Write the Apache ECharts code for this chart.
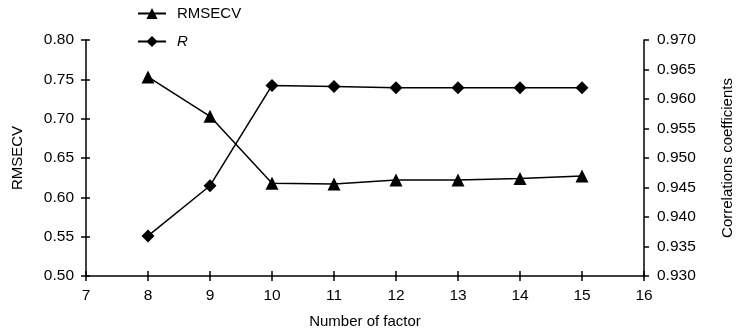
<!DOCTYPE html>
<html><head><meta charset="utf-8">
<script src="https://cdn.jsdelivr.net/npm/echarts@6/dist/echarts.min.js"></script>
<style>html,body{margin:0;padding:0;background:#fff}#c{width:743px;height:333px}</style>
</head><body><div id="c"></div>
<script>
const factors = [8, 9, 10, 11, 12, 13, 14, 15];
const rmsecv = [0.753, 0.703, 0.618, 0.617, 0.622, 0.622, 0.624, 0.627];
const rValues = [0.9368, 0.9453, 0.9623, 0.9621, 0.9619, 0.9619, 0.9619, 0.9619];

const FONT = 'Liberation Sans, Arial, sans-serif';
const lbl = {color: '#000', fontSize: 15.5, fontFamily: FONT};
const nameStyle = {color: '#000', fontSize: 15, fontFamily: FONT};
const axLine = {show: true, lineStyle: {color: '#000', width: 1.5}};
const chart = echarts.init(document.getElementById('c'));
chart.setOption({
  animation: false,
  backgroundColor: '#fff',
  grid: {left: 86, right: 99, top: 40, bottom: 57, outerBoundsMode: 'none', containLabel: false},
  legend: {
    orient: 'vertical', left: 137, top: 6, padding: 0, itemWidth: 28, itemHeight: 14, itemGap: 13,
    textStyle: {color: '#000', fontSize: 15, fontFamily: FONT, padding: [0, 0, 0, 6],
      rich: {i: {fontStyle: 'italic', fontSize: 15, fontFamily: FONT, color: '#000'}}},
    formatter: n => n === 'R' ? '{i|R}' : n,
    data: ['RMSECV', 'R']
  },
  xAxis: [{
    type: 'value', min: 7, max: 16, interval: 1,
    name: 'Number of factor', nameLocation: 'middle', nameGap: 38,
    nameTextStyle: nameStyle,
    axisLine: axLine, axisTick: {show: true, length: 5, lineStyle: {color: '#000', width: 1.5}},
    axisLabel: Object.assign({margin: 12}, lbl), splitLine: {show: false}
  }, {
    type: 'value', min: 7, max: 16, interval: 1, position: 'bottom',
    axisLine: {show: false}, axisTick: {show: true, inside: true, length: 5, lineStyle: {color: '#000', width: 1.5}},
    axisLabel: {show: false}, splitLine: {show: false}
  }],
  yAxis: [{
    type: 'value', min: 0.5, max: 0.8, interval: 0.05, position: 'left',
    name: 'RMSECV', nameLocation: 'middle', nameGap: 61,
    nameTextStyle: nameStyle,
    axisLine: axLine, axisTick: {show: true, length: 5, lineStyle: {color: '#000', width: 1.5}},
    axisLabel: Object.assign({margin: 12, formatter: v => v.toFixed(2)}, lbl), splitLine: {show: false}
  }, {
    type: 'value', min: 0.930, max: 0.970, interval: 0.005, position: 'right',
    name: 'Correlations coefficients', nameLocation: 'middle', nameGap: 76,
    nameTextStyle: nameStyle,
    axisLine: axLine, axisTick: {show: true, length: 5, lineStyle: {color: '#000', width: 1.5}},
    axisLabel: Object.assign({margin: 13, formatter: v => v.toFixed(3)}, lbl), splitLine: {show: false}
  }, {
    type: 'value', min: 0.5, max: 0.8, interval: 0.05, position: 'left',
    axisLine: {show: false}, axisTick: {show: true, inside: true, length: 4, lineStyle: {color: '#000', width: 1.5}},
    axisLabel: {show: false}, splitLine: {show: false}
  }],
  series: [{
    name: 'RMSECV', type: 'line', xAxisIndex: 0, yAxisIndex: 0,
    data: factors.map((f, i) => [f, rmsecv[i]]),
    symbol: 'triangle', symbolSize: 13,
    lineStyle: {color: '#000', width: 1.5}, itemStyle: {color: '#000'}
  }, {
    name: 'R', type: 'line', xAxisIndex: 0, yAxisIndex: 1,
    data: factors.map((f, i) => [f, rValues[i]]),
    symbol: 'diamond', symbolSize: 13,
    lineStyle: {color: '#000', width: 1.5}, itemStyle: {color: '#000'}
  }]
});
</script></body></html>
